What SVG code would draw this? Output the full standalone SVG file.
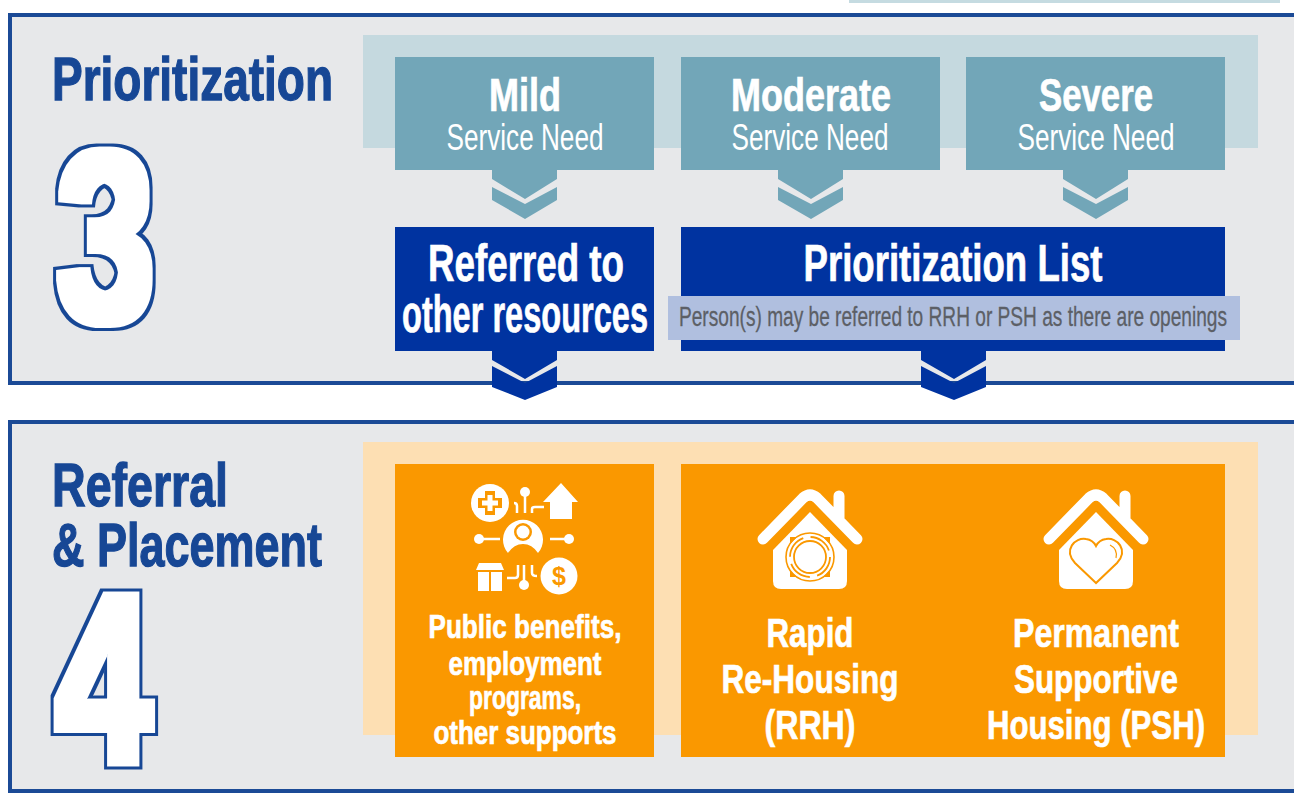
<svg xmlns="http://www.w3.org/2000/svg" width="1294" height="796" viewBox="0 0 1294 796">
<style>
text{font-family:"Liberation Sans Narrow","Liberation Sans",Arial,sans-serif;text-anchor:middle}
.panel{fill:#e7e8ea;stroke:#1b4a96;stroke-width:4}
.head{fill:#174795;stroke:#174795;stroke-width:1.3;font-weight:700;font-size:61px;text-anchor:start}
.num{font-weight:700;text-anchor:start;fill:#000;filter:url(#outline)}
.teal{fill:#72a6b8}.navy{fill:#0033a0}.orange{fill:#fa9800}
.w{fill:#fff}.b{font-weight:700;stroke:#fff;stroke-width:.7}
.t1{font-size:46px}.t2{font-size:37px}.t3{font-size:51px}.o1{font-size:33px}.o2{font-size:41px}
.ln{fill:none;stroke:#fff;stroke-width:2.5}
.roof{fill:none;stroke:#fff;stroke-width:11;stroke-linecap:round;stroke-linejoin:round}
.cut{fill:none;stroke:#fa9800}
</style>
<defs>
<filter id="outline" x="-20%" y="-20%" width="140%" height="140%" color-interpolation-filters="sRGB">
<feMorphology in="SourceAlpha" operator="dilate" radius="8" result="outer"/>
<feFlood flood-color="#174795"/><feComposite in2="outer" operator="in" result="blue"/>
<feMorphology in="SourceAlpha" operator="dilate" radius="4.5" result="inner"/>
<feFlood flood-color="#ffffff"/><feComposite in2="inner" operator="in" result="white"/>
<feMerge><feMergeNode in="blue"/><feMergeNode in="white"/></feMerge>
</filter>
</defs>
<rect x="849" y="-4" width="431" height="7" fill="#c5dbe1"/>
<g id="panel-3">
<rect class="panel" x="10" y="15" width="1300" height="368"/>
<rect x="363" y="35" width="895" height="113" fill="#c5d9df"/>
<text class="head" x="52" y="100" textLength="281" lengthAdjust="spacingAndGlyphs">Prioritization</text>
<text class="num" x="57" y="320" font-size="241" textLength="97" lengthAdjust="spacingAndGlyphs">3</text>
</g>
<g id="panel-4">
<rect class="panel" x="10" y="422" width="1300" height="369"/>
<rect x="363" y="442" width="895" height="293" fill="#fddfb3"/>
<text class="head" x="52" y="506" textLength="176" lengthAdjust="spacingAndGlyphs">Referral</text>
<text class="head" x="52" y="566" textLength="270" lengthAdjust="spacingAndGlyphs">&amp; Placement</text>
<text class="num" x="56" y="762" font-size="240" textLength="95" lengthAdjust="spacingAndGlyphs">4</text>
</g>
<g id="connectors">
<g class="teal">
<path d="M492 168H557V179L525 199L492 179ZM492 187L525 204L557 187V200L525 219L492 200Z"/>
<path d="M778 168H843V179L811 199L778 179ZM778 187L811 204L843 187V200L811 219L778 200Z"/>
<path d="M1063 168H1128V179L1096 199L1063 179ZM1063 187L1096 204L1128 187V200L1096 219L1063 200Z"/>
</g>
<g class="navy">
<path d="M492 349H557V360L525 379L492 360ZM492 366L525 383L557 366V387L525 400L492 387Z"/>
<path d="M921 349H986V360L954 379L921 360ZM921 366L954 383L986 366V387L954 400L921 387Z"/>
</g>
</g>
<g id="mild"><rect class="teal" x="395" y="57" width="259" height="113"/>
<text class="w b t1" x="525" y="111" textLength="72" lengthAdjust="spacingAndGlyphs">Mild</text>
<text class="w t2" x="525" y="150" textLength="157" lengthAdjust="spacingAndGlyphs">Service Need</text></g>
<g id="moderate"><rect class="teal" x="681" y="57" width="259" height="113"/>
<text class="w b t1" x="811" y="111" textLength="160" lengthAdjust="spacingAndGlyphs">Moderate</text>
<text class="w t2" x="810" y="150" textLength="157" lengthAdjust="spacingAndGlyphs">Service Need</text></g>
<g id="severe"><rect class="teal" x="966" y="57" width="259" height="113"/>
<text class="w b t1" x="1096" y="111" textLength="114" lengthAdjust="spacingAndGlyphs">Severe</text>
<text class="w t2" x="1096" y="150" textLength="157" lengthAdjust="spacingAndGlyphs">Service Need</text></g>
<g id="referred"><rect class="navy" x="395" y="227" width="259" height="124"/>
<text class="w b t3" x="526" y="281" textLength="196" lengthAdjust="spacingAndGlyphs">Referred to</text>
<text class="w b t3" x="525" y="332" textLength="246" lengthAdjust="spacingAndGlyphs">other resources</text></g>
<g id="list"><rect class="navy" x="681" y="227" width="544" height="124"/>
<text class="w b t3" x="953" y="281" textLength="299" lengthAdjust="spacingAndGlyphs">Prioritization List</text>
<rect x="668" y="296" width="572" height="44" fill="#b0bfdf"/>
<text x="953" y="326" font-size="28" fill="#5c5f66" stroke="#5c5f66" stroke-width=".3" textLength="548" lengthAdjust="spacingAndGlyphs">Person(s) may be referred to RRH or PSH as there are openings</text></g>
<g id="benefits"><rect class="orange" x="395" y="464" width="259" height="293"/>
<g class="w">
<circle cx="490" cy="503" r="19"/>
<path d="M485 491h10v7h7v10h-7v7h-10v-7h-7v-10h7z" fill="#fa9800"/>
<path d="M487.500 495h5v5.500h5.500v5h-5.500v5.500h-5v-5.500h-5.500v-5h5.500z"/>
<path d="M561 483L578 502H572V519H550V502H543Z"/>
<circle cx="525" cy="492" r="5"/>
<path class="ln" d="M525 492V513M514 503Q517 503 517 506V513M532 513V509Q532 507 535 507H544"/>
<path d="M508 553A20 20 0 1 1 538 553Q532 544 523 544Q514 544 508 553Z"/>
<circle cx="523" cy="532" r="9" fill="#fa9800"/><circle cx="523" cy="532" r="6.500"/>
<circle cx="479" cy="539" r="5"/><circle cx="569" cy="539" r="5"/>
<path class="ln" d="M479 539H500M550 539H569M507 578H515Q518 578 518 575V565M524 565V585M532 565V573Q532 576 537 576"/>
<circle cx="524" cy="585" r="5"/>
<path d="M479 563H501L504 570H476ZM478 572H489V591H478ZM491 572H502V591H491Z"/>
<circle cx="559" cy="576" r="18.500"/>
<text x="559" y="585" font-size="25" font-weight="700" style="fill:#fa9800">$</text>
</g>
<g class="w b o1">
<text x="525" y="638" textLength="193" lengthAdjust="spacingAndGlyphs">Public benefits,</text>
<text x="525" y="675" textLength="153" lengthAdjust="spacingAndGlyphs">employment</text>
<text x="525" y="709" textLength="112" lengthAdjust="spacingAndGlyphs">programs,</text>
<text x="525" y="744" textLength="183" lengthAdjust="spacingAndGlyphs">other supports</text>
</g></g>
<g id="housing"><rect class="orange" x="681" y="464" width="544" height="293"/>
<g id="rrh">
<path d="M810 512L847 550V581Q847 589 839 589H781Q773 589 773 581V550Z" class="w"/>
<path class="roof" d="M763 539L803 498Q810 492 817 498L857 539M839 496V518"/>
<circle class="cut" cx="810" cy="557" r="24" stroke-width="1.600"/>
<circle class="cut" cx="810" cy="557" r="20" stroke-width="1.800" stroke-dasharray="24 7.400"/>
<circle class="cut" cx="810" cy="557" r="16" stroke-width="1.800"/>
<path d="M790 537h7l-7 7zM830 537v7l-7-7zM790 577v-7l7 7zM830 577h-7l7-7z" fill="#fa9800"/>
<text class="w b o2" x="810" y="647" textLength="87" lengthAdjust="spacingAndGlyphs">Rapid</text>
<text class="w b o2" x="810" y="693" textLength="177" lengthAdjust="spacingAndGlyphs">Re-Housing</text>
<text class="w b o2" x="810" y="739" textLength="91" lengthAdjust="spacingAndGlyphs">(RRH)</text>
</g>
<g id="psh">
<path d="M1096 512L1133 550V581Q1133 589 1125 589H1067Q1059 589 1059 581V550Z" class="w"/>
<path class="roof" d="M1049 539L1089 498Q1096 492 1103 498L1143 539M1125 496V518"/>
<path class="cut" stroke-width="2" d="M1096 583L1075 563C1063 550 1075 537 1086 539Q1093 540 1096 546Q1099 540 1106 539C1117 537 1129 550 1117 563Z"/>
<path class="cut" stroke-width="1.200" d="M1110 545Q1118 549 1116 558"/>
<text class="w b o2" x="1096" y="647" textLength="166" lengthAdjust="spacingAndGlyphs">Permanent</text>
<text class="w b o2" x="1096" y="693" textLength="164" lengthAdjust="spacingAndGlyphs">Supportive</text>
<text class="w b o2" x="1096" y="739" textLength="218" lengthAdjust="spacingAndGlyphs">Housing (PSH)</text>
</g></g>
</svg>
